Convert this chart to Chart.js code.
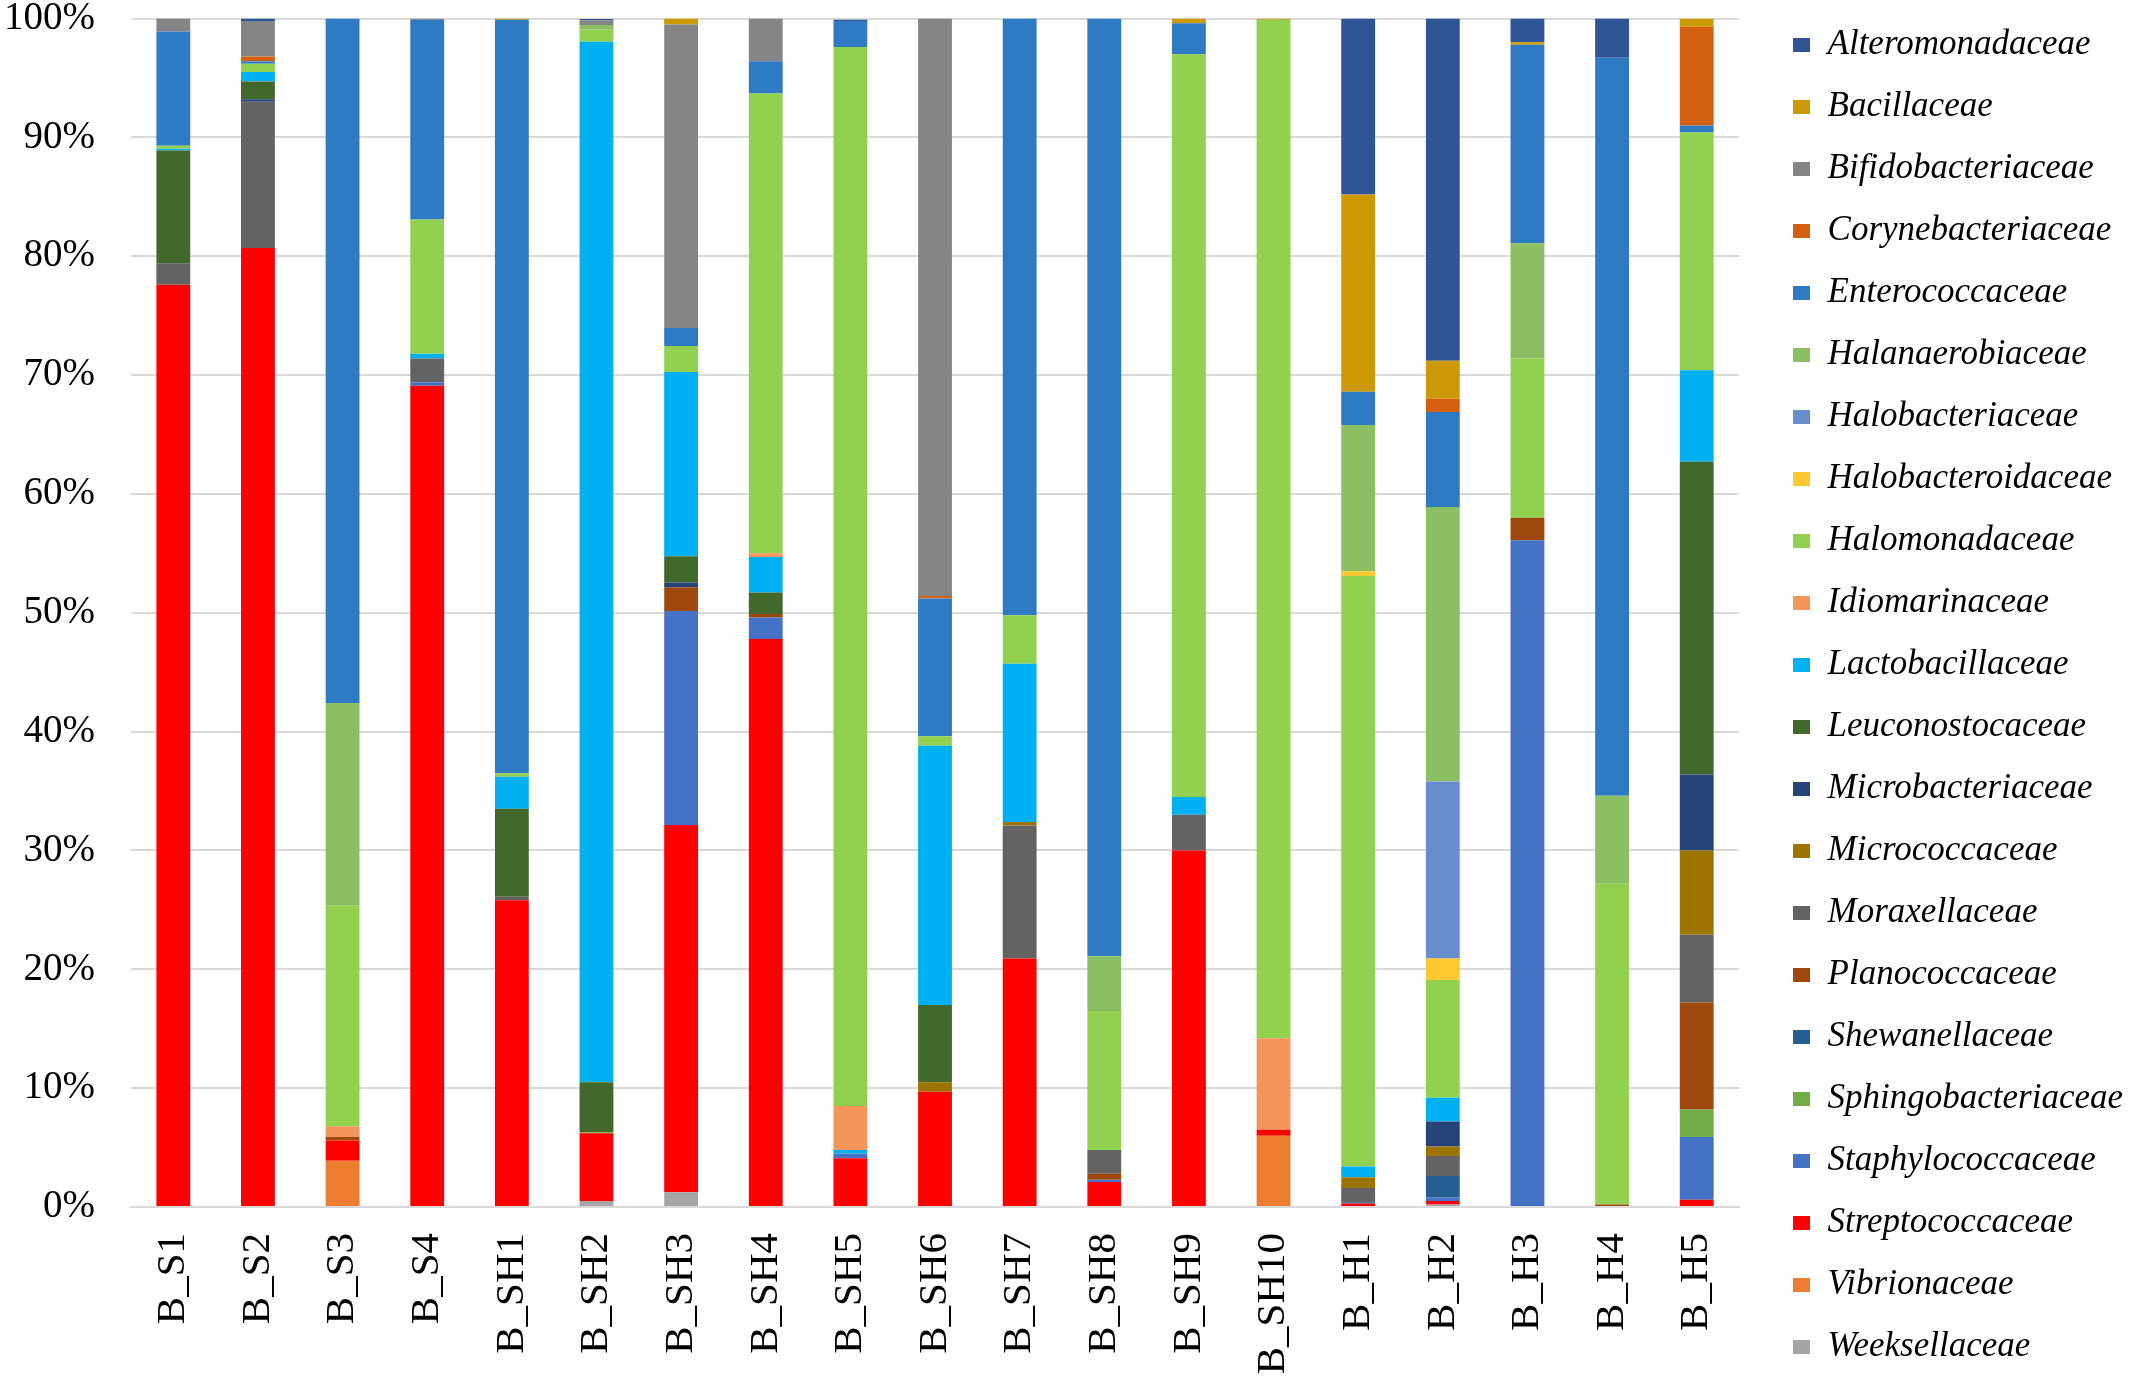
<!DOCTYPE html>
<html>
<head>
<meta charset="utf-8">
<script src="https://cdn.jsdelivr.net/npm/chart.js@4.4.1/dist/chart.umd.min.js"></script>
<style>
  html, body { margin: 0; padding: 0; background: #ffffff; }
  #wrap { position: relative; width: 2133px; height: 1383px; }
</style>
</head>
<body>
<div id="wrap"><canvas id="c"></canvas></div>
<script>
// ---------- data ----------
const categories = ['B_S1','B_S2','B_S3','B_S4','B_SH1','B_SH2','B_SH3','B_SH4','B_SH5','B_SH6','B_SH7','B_SH8','B_SH9','B_SH10','B_H1','B_H2','B_H3','B_H4','B_H5'];
const yTickLabels = ['0%','10%','20%','30%','40%','50%','60%','70%','80%','90%','100%'];

// series values (% of reads), bottom of stack first
const weeksellaceae       = [0,0,0,0,0,0.5,1.25,0,0,0,0,0,0,0,0,0.2,0,0,0];
const vibrionaceae        = [0,0,3.9,0,0,0,0,0,0,0,0,0,0,6.0,0,0,0,0,0];
const streptococcaceae    = [77.6,80.7,1.7,69.1,25.8,5.7,30.9,47.8,4.1,9.7,20.9,2.1,30.0,0.5,0.3,0.3,0,0,0.6];
const staphylococcaceae   = [0,0,0,0.3,0,0,18.0,1.8,0.4,0,0,0.2,0,0,0,0.3,56.1,0,5.3];
const sphingobacteriaceae = [0,0,0,0,0,0.1,0,0,0,0,0,0,0,0,0,0,0,0,2.3];
const shewanellaceae      = [0,0,0,0,0,0,0,0,0,0,0,0,0,0,0.1,1.8,0,0,0];
const planococcaceae      = [0,0,0.3,0,0,0,2.0,0.3,0,0,0,0.5,0,0,0,0,1.9,0.2,9.0];
const moraxellaceae       = [1.8,12.3,0,2.0,0.3,0,0,0,0,0,11.2,2.0,3.0,0,1.2,1.7,0,0,5.7];
const micrococcaceae      = [0,0,0,0,0,0,0,0,0,0.8,0.3,0,0,0,0.9,0.8,0,0,7.1];
const microbacteriaceae   = [0,0.2,0,0,0,0,0.4,0,0,0,0,0,0,0,0,2.1,0,0,6.4];
const leuconostocaceae    = [9.5,1.5,0,0,7.4,4.2,2.2,1.8,0,6.5,0,0,0,0,0,0,0,0,26.3];
const lactobacillaceae    = [0.15,0.8,0,0.4,2.7,87.55,15.5,3.0,0.3,21.8,13.3,0,1.5,0,0.9,2.0,0,0,7.7];
const idiomarinaceae      = [0,0,0.9,0,0,0,0,0.3,3.7,0,0,0,0,7.7,0,0,0,0,0];
const halomonadaceae      = [0.25,0.7,18.6,11.3,0.3,1.0,2.2,38.7,89.1,0.8,4.1,11.7,62.5,85.7,49.7,9.9,13.4,27.0,20.0];
const halobacteroidaceae  = [0,0,0,0,0,0,0,0,0,0,0,0,0,0,0.4,1.8,0,0,0];
const halobacteriaceae    = [0,0,0,0,0,0,0,0,0,0,0,0,0,0,0,14.9,0,0,0];
const halanaerobiaceae    = [0,0,17.0,0,0,0.4,0,0,0,0,0,4.6,0,0,12.3,23.1,9.7,7.4,0];
const enterococcaceae     = [9.6,0.2,57.6,16.8,63.4,0,1.5,2.7,2.2,11.6,50.2,78.9,2.6,0,2.8,8.0,16.7,62.1,0.6];
const corynebacteriaceae  = [0,0.4,0,0,0,0,0,0,0,0.2,0,0,0,0,0,1.1,0,0,8.3];
const bifidobacteriaceae  = [1.1,3.0,0,0.1,0,0.4,25.55,3.6,0,48.6,0,0,0,0,0,0,0,0,0];
const bacillaceae         = [0,0,0,0,0.1,0,0.5,0,0,0,0,0,0.4,0.1,16.6,3.2,0.2,0,0.7];
const alteromonadaceae    = [0,0.2,0,0,0,0.1,0,0,0.1,0,0,0,0,0,14.8,28.8,2.0,3.3,0];

const familyNames = ['Weeksellaceae','Vibrionaceae','Streptococcaceae','Staphylococcaceae','Sphingobacteriaceae','Shewanellaceae','Planococcaceae','Moraxellaceae','Micrococcaceae','Microbacteriaceae','Leuconostocaceae','Lactobacillaceae','Idiomarinaceae','Halomonadaceae','Halobacteroidaceae','Halobacteriaceae','Halanaerobiaceae','Enterococcaceae','Corynebacteriaceae','Bifidobacteriaceae','Bacillaceae','Alteromonadaceae'];
const familyValues = [weeksellaceae, vibrionaceae, streptococcaceae, staphylococcaceae, sphingobacteriaceae, shewanellaceae, planococcaceae, moraxellaceae, micrococcaceae, microbacteriaceae, leuconostocaceae, lactobacillaceae, idiomarinaceae, halomonadaceae, halobacteroidaceae, halobacteriaceae, halanaerobiaceae, enterococcaceae, corynebacteriaceae, bifidobacteriaceae, bacillaceae, alteromonadaceae];

// ---------- styles ----------
const familyColors = ['#A5A5A5','#ED7D31','#FF0000','#4472C4','#70AD47','#255E91','#9E480E','#636363','#9E7400','#264478','#43682B','#00B0F0','#F4965A','#92D050','#FFC830','#698ED0','#8CBF64','#2E7BC4','#D2600F','#858585','#CC9A06','#2F5597'];

Chart.defaults.font.family = "'Liberation Serif', 'Times New Roman', serif";
Chart.defaults.color = '#000000';

const datasets = familyNames.map((name, i) => ({
  label: name,
  data: familyValues[i],
  backgroundColor: familyColors[i],
  borderWidth: 0,
  categoryPercentage: 0.5,
  barPercentage: 0.8
}));

new Chart(document.getElementById('c'), {
  type: 'bar',
  data: { labels: categories, datasets: datasets },
  options: {
    responsive: true,
    maintainAspectRatio: false,
    devicePixelRatio: 1,
    animation: false,
    layout: { padding: { top: -26.5, bottom: -40, left: 0, right: 0 } },
    plugins: {
      tooltip: { enabled: false },
      legend: {
        position: 'right',
        align: 'start',
        reverse: true,
        labels: {
          boxWidth: 17,
          boxHeight: 14,
          padding: 54,
          color: '#000000',
          font: { family: "'Liberation Serif', 'Times New Roman', serif", style: 'italic', size: 35, lineHeight: '8px' },
          generateLabels: (chart) => Chart.defaults.plugins.legend.labels.generateLabels(chart).map(l => Object.assign({}, l, { text: [l.text], lineWidth: 0 }))
        }
      }
    },
    scales: {
      x: {
        stacked: true,
        grid: { display: true, color: 'transparent', drawTicks: true, tickLength: 26, tickColor: 'transparent' },
        border: { display: true, color: '#D9D9D9', width: 2 },
        ticks: {
          autoSkip: false, maxRotation: 90, minRotation: 90, padding: 0,
          color: '#000000',
          font: { size: 41 }
        },
        afterFit: (s) => { s.height = 216; }
      },
      y: {
        stacked: true,
        min: 0,
        max: 100,
        grid: { color: '#D9D9D9', lineWidth: 2, drawTicks: true, tickLength: 36, tickColor: 'transparent' },
        border: { display: false },
        ticks: {
          stepSize: 10,
          padding: 0,
          color: '#000000',
          font: { size: 39, lineHeight: 0.95 },
          callback: (v) => yTickLabels[Math.round(v / 10)]
        },
        afterFit: (s) => { s.width = 131; }
      }
    }
  }
});
</script>
</body>
</html>
